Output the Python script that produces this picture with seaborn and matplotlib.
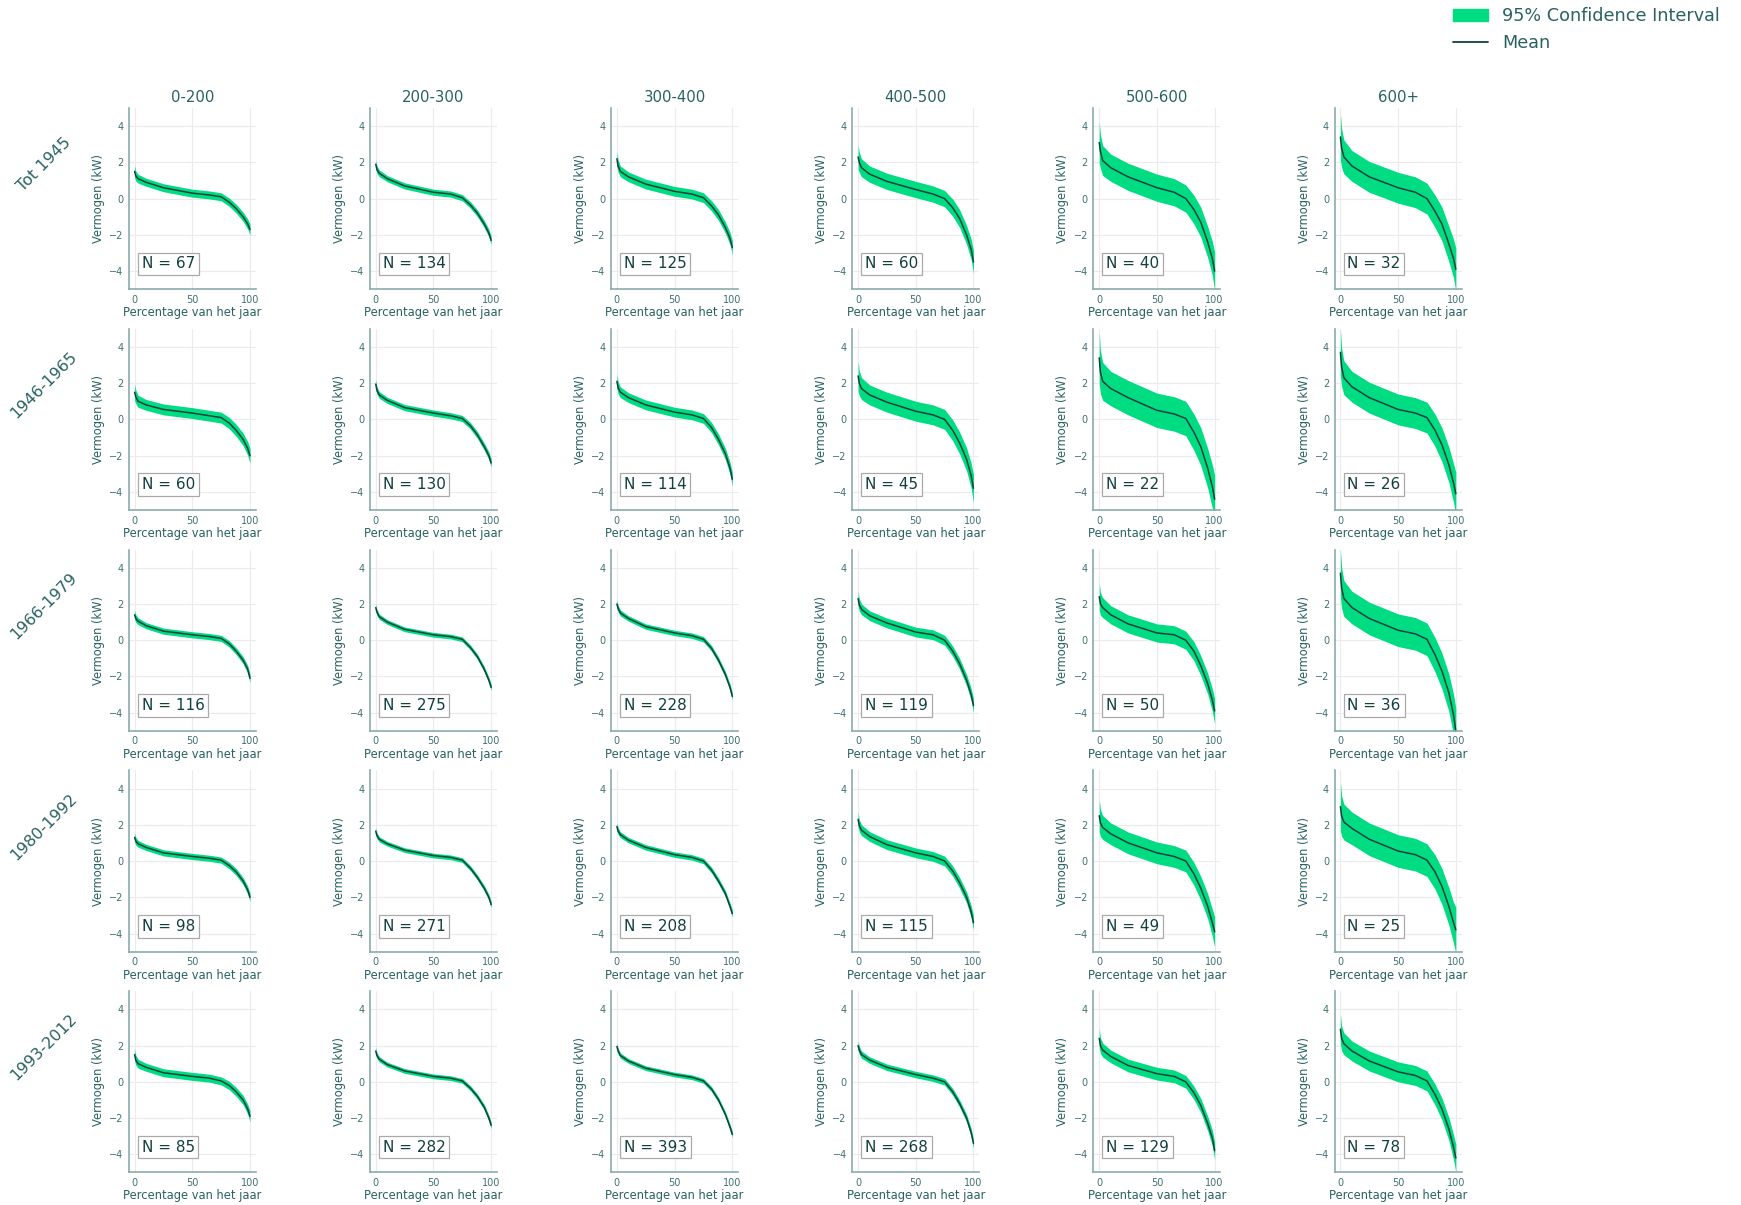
import numpy as np
import pandas as pd
import seaborn as sns
import matplotlib.pyplot as plt
from matplotlib.patches import Patch
from matplotlib.lines import Line2D

# ---- data ----
periods = ["Tot 1945", "1946-1965", "1966-1979", "1980-1992", "1993-2012"]
classes = ["0-200", "200-300", "300-400", "400-500", "500-600", "600+"]

# percentage of the year at which the mean curve was read
x_pct = [0, 1, 3, 10, 25, 50, 65, 75, 82, 88, 94, 98, 100]

mean_tot1945 = [
    [1.5, 1.25, 1.1, 0.9, 0.6, 0.3, 0.2, 0.1, -0.2, -0.55, -1.0, -1.4, -1.7],
    [1.9, 1.6, 1.4, 1.1, 0.7, 0.35, 0.25, 0.05, -0.35, -0.8, -1.4, -1.9, -2.3],
    [2.2, 1.8, 1.5, 1.2, 0.8, 0.4, 0.25, 0.05, -0.4, -0.9, -1.6, -2.2, -2.7],
    [2.3, 2.0, 1.7, 1.35, 0.95, 0.5, 0.25, 0.0, -0.5, -1.1, -2.0, -2.8, -3.5],
    [3.1, 2.6, 2.1, 1.7, 1.2, 0.6, 0.35, 0.0, -0.6, -1.3, -2.4, -3.3, -4.0],
    [3.4, 2.8, 2.3, 1.8, 1.2, 0.6, 0.35, 0.0, -0.7, -1.4, -2.5, -3.3, -3.9],
]
mean_1946_1965 = [
    [1.5, 1.25, 1.0, 0.8, 0.55, 0.35, 0.2, 0.1, -0.2, -0.6, -1.1, -1.6, -2.0],
    [1.95, 1.6, 1.35, 1.05, 0.65, 0.35, 0.2, 0.05, -0.35, -0.85, -1.5, -2.0, -2.4],
    [2.1, 1.75, 1.5, 1.2, 0.8, 0.4, 0.25, 0.05, -0.45, -1.1, -1.9, -2.7, -3.3],
    [2.4, 2.0, 1.7, 1.35, 0.95, 0.45, 0.25, 0.0, -0.6, -1.3, -2.2, -3.1, -3.8],
    [3.4, 2.6, 2.1, 1.7, 1.2, 0.5, 0.3, 0.05, -0.7, -1.5, -2.7, -3.7, -4.4],
    [3.7, 2.9, 2.3, 1.8, 1.2, 0.55, 0.35, 0.1, -0.6, -1.4, -2.5, -3.5, -4.1],
]
mean_1966_1979 = [
    [1.4, 1.2, 1.05, 0.8, 0.5, 0.3, 0.2, 0.1, -0.2, -0.6, -1.1, -1.6, -2.1],
    [1.8, 1.55, 1.3, 1.0, 0.6, 0.3, 0.2, 0.05, -0.4, -0.9, -1.6, -2.2, -2.6],
    [2.0, 1.75, 1.5, 1.2, 0.75, 0.4, 0.25, 0.05, -0.45, -1.1, -1.9, -2.6, -3.1],
    [2.3, 1.95, 1.7, 1.35, 0.95, 0.45, 0.3, 0.0, -0.6, -1.3, -2.2, -3.0, -3.6],
    [2.4, 2.0, 1.8, 1.4, 0.9, 0.4, 0.3, 0.0, -0.6, -1.4, -2.4, -3.3, -3.9],
    [3.7, 2.9, 2.3, 1.8, 1.2, 0.55, 0.35, 0.05, -0.8, -1.7, -2.9, -4.1, -5.0],
]
mean_1980_1992 = [
    [1.3, 1.1, 0.95, 0.75, 0.45, 0.25, 0.15, 0.05, -0.25, -0.6, -1.1, -1.6, -2.0],
    [1.65, 1.4, 1.2, 0.95, 0.6, 0.3, 0.2, 0.05, -0.4, -0.9, -1.5, -2.0, -2.4],
    [1.9, 1.65, 1.45, 1.15, 0.75, 0.35, 0.2, 0.0, -0.5, -1.1, -1.8, -2.5, -2.9],
    [2.3, 1.95, 1.7, 1.35, 0.9, 0.45, 0.25, 0.0, -0.55, -1.2, -2.0, -2.8, -3.4],
    [2.5, 2.1, 1.85, 1.5, 1.0, 0.45, 0.25, 0.0, -0.7, -1.5, -2.5, -3.4, -3.9],
    [3.0, 2.5, 2.15, 1.8, 1.2, 0.55, 0.35, 0.05, -0.6, -1.4, -2.5, -3.4, -3.8],
]
mean_1993_2012 = [
    [1.5, 1.2, 1.0, 0.8, 0.5, 0.3, 0.2, 0.05, -0.2, -0.55, -1.0, -1.5, -1.9],
    [1.7, 1.45, 1.25, 0.95, 0.6, 0.3, 0.2, 0.05, -0.35, -0.8, -1.4, -2.0, -2.4],
    [1.95, 1.7, 1.45, 1.15, 0.75, 0.4, 0.25, 0.05, -0.4, -1.0, -1.8, -2.5, -2.9],
    [2.0, 1.75, 1.5, 1.2, 0.8, 0.4, 0.2, 0.0, -0.55, -1.2, -2.0, -2.8, -3.4],
    [2.4, 2.0, 1.75, 1.4, 0.9, 0.45, 0.3, 0.0, -0.6, -1.3, -2.3, -3.1, -3.8],
    [2.9, 2.4, 2.1, 1.7, 1.15, 0.55, 0.35, 0.05, -0.7, -1.5, -2.6, -3.6, -4.2],
]
means = [mean_tot1945, mean_1946_1965, mean_1966_1979, mean_1980_1992, mean_1993_2012]

# half width of the 95% band per panel, and how it widens along the year
ci_tot1945 = [0.22, 0.17, 0.27, 0.45, 0.75, 0.85]
ci_1946_1965 = [0.3, 0.17, 0.27, 0.55, 0.95, 0.85]
ci_1966_1979 = [0.17, 0.13, 0.15, 0.27, 0.5, 0.9]
ci_1980_1992 = [0.17, 0.13, 0.15, 0.27, 0.6, 0.9]
ci_1993_2012 = [0.22, 0.13, 0.13, 0.18, 0.35, 0.55]
ci_width = [ci_tot1945, ci_1946_1965, ci_1966_1979, ci_1980_1992, ci_1993_2012]
band_profile = [1.5, 1.25, 1.1, 1.0, 1.0, 1.0, 1.0, 1.0, 1.05, 1.1, 1.15, 1.25, 1.4]

n_tot1945 = [67, 134, 125, 60, 40, 32]
n_1946_1965 = [60, 130, 114, 45, 22, 26]
n_1966_1979 = [116, 275, 228, 119, 50, 36]
n_1980_1992 = [98, 271, 208, 115, 49, 25]
n_1993_2012 = [85, 282, 393, 268, 129, 78]
n_counts = [n_tot1945, n_1946_1965, n_1966_1979, n_1980_1992, n_1993_2012]

# ---- style ----
sns.set_theme(style="whitegrid")
plt.rcParams['font.family'] = ['DejaVu Sans']

TEXT = "#2a6262"
TICK = "#3f7070"
SPINE = "#8aabab"
BAND = "#00dc82"
LINE = "#12403f"

fig, axes = plt.subplots(5, 6, figsize=(17.41, 12.05), dpi=100)
fig.subplots_adjust(left=0.074, right=0.8395, top=0.9104, bottom=0.027,
                    wspace=0.9, hspace=0.218)

for i, period in enumerate(periods):
    for j, klass in enumerate(classes):
        ax = axes[i, j]
        mean = means[i][j]
        hw = ci_width[i][j]
        lower = [m - hw * p for m, p in zip(mean, band_profile)]
        upper = [m + hw * p for m, p in zip(mean, band_profile)]
        df = pd.DataFrame({"Percentage van het jaar": x_pct, "Vermogen (kW)": mean})

        ax.fill_between(x_pct, lower, upper, color=BAND, lw=0)
        sns.lineplot(data=df, x="Percentage van het jaar", y="Vermogen (kW)",
                     ax=ax, color=LINE, lw=1.1)

        ax.set_xlim(-5, 105)
        ax.set_ylim(-5, 5)
        ax.set_xticks([0, 50, 100])
        ax.set_yticks([-4, -2, 0, 2, 4])
        ax.tick_params(labelsize=7, colors=TICK, length=0, pad=4)
        ax.set_xlabel("Percentage van het jaar", fontsize=8.3, color=TEXT, labelpad=1)
        ax.set_ylabel("Vermogen (kW)", fontsize=8.3, color=TEXT, labelpad=3)
        ax.grid(color="#ebebeb", lw=0.8)
        for s in ["top", "right"]:
            ax.spines[s].set_visible(False)
        for s in ["left", "bottom"]:
            ax.spines[s].set_color(SPINE)
            ax.spines[s].set_linewidth(1.2)

        ax.text(0.1, 0.14, "N = %d" % n_counts[i][j], transform=ax.transAxes,
                fontsize=11, color=LINE, ha="left", va="center",
                bbox=dict(boxstyle="square,pad=0.25", fc="white", ec="#aaaaaa", lw=0.9))

        if i == 0:
            ax.set_title(klass, fontsize=10.7, color=TEXT, pad=4)

    pos = axes[i, 0].get_position()
    fig.text(44 / 1741, pos.y1 - 0.31 * pos.height, period, rotation=45,
             ha="center", va="center", fontsize=11.5, color=TEXT)

handles = [Patch(color=BAND), Line2D([0], [0], color=LINE, lw=1.3)]
fig.legend(handles, ["95% Confidence Interval", "Mean"], loc="upper right",
           bbox_to_anchor=(0.997, 1.007), frameon=False, fontsize=12.7,
           labelcolor=TEXT, handlelength=2.0)

plt.savefig("out.png", dpi=100)
